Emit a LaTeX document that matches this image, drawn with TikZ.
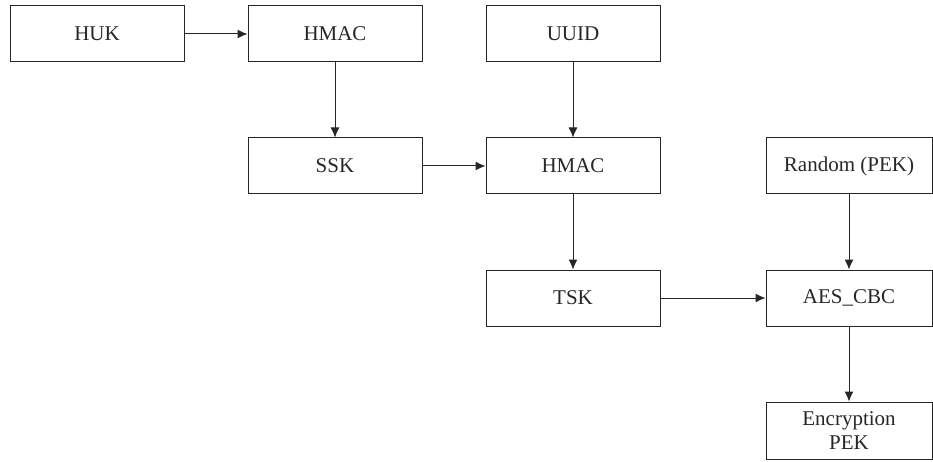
\documentclass[tikz,border=0pt]{standalone}
\usepackage{fontspec}
\setmainfont{Liberation Serif}
\usetikzlibrary{arrows.meta}
\begin{document}
\begin{tikzpicture}[x=1pt,y=-1pt,
  blk/.style={draw=black!85, line width=1pt, minimum width=174pt, minimum height=56pt,
    inner sep=0pt, align=center, text=black!85, font=\fontsize{21}{24}\selectfont},
  flow/.style={-{Latex[length=10pt,width=9pt]}, draw=black!85, fill=black!85, line width=1pt}]
\useasboundingbox (0,0) rectangle (933,462);
% top row
\node[blk] (huk)   at (97,34)   {HUK};
\node[blk] (hmaca) at (335,34)  {HMAC};
\node[blk] (uuid)  at (573,34)  {UUID};
% second row
\node[blk] (ssk)   at (335,166) {SSK};
\node[blk] (hmacb) at (573,166) {HMAC};
\node[blk, minimum width=166pt] (rnd) at (849,166) {Random (PEK)};
% third row
\node[blk] (tsk)   at (573,298) {TSK};
\node[blk, minimum width=166pt] (aes) at (849,298) {AES\_CBC};
% output
\node[blk, minimum width=166pt, minimum height=57pt] (enc) at (849,430.5) {Encryption\\PEK};
\draw[flow] (huk) -- (hmaca);
\draw[flow] (hmaca) -- (ssk);
\draw[flow] (ssk) -- (hmacb);
\draw[flow] (uuid) -- (hmacb);
\draw[flow] (hmacb) -- (tsk);
\draw[flow] (tsk) -- (aes);
\draw[flow] (rnd) -- (aes);
\draw[flow] (aes) -- (enc);
\end{tikzpicture}
\end{document}
